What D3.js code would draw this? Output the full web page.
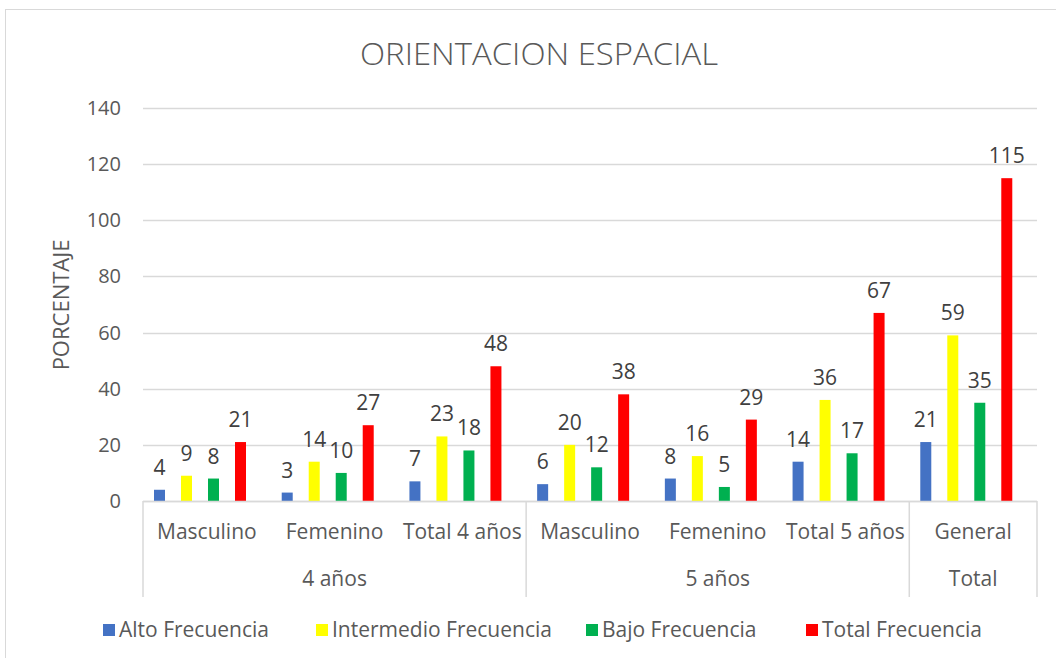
<!DOCTYPE html>
<html>
<head>
<meta charset="utf-8">
<script src="https://cdn.jsdelivr.net/npm/d3@7"></script>
<style>
  body { margin: 0; background: #fff; }
  svg text { font-family: "Open Sans", Lato, sans-serif; fill: #595959; }
</style>
</head>
<body>
<div id="chart"></div>
<script>
const categories = ["Masculino", "Femenino", "Total 4 años", "Masculino", "Femenino", "Total 5 años", "General"];
const groups = [
  { name: "4 años", from: 0, to: 2 },
  { name: "5 años", from: 3, to: 5 },
  { name: "Total", from: 6, to: 6 }
];
const seriesNames = ["Alto Frecuencia", "Intermedio Frecuencia", "Bajo Frecuencia", "Total Frecuencia"];
const seriesColors = ["#4472C4", "#FFFF00", "#00B050", "#FF0000"];
const alto = [4, 3, 7, 6, 8, 14, 21];
const intermedio = [9, 14, 23, 20, 16, 36, 59];
const bajo = [8, 10, 18, 12, 5, 17, 35];
const total = [21, 27, 48, 38, 29, 67, 115];
const yTicks = [0, 20, 40, 60, 80, 100, 120, 140];

const seriesValues = [alto, intermedio, bajo, total];

const W = 1056, H = 658;
const plotLeft = 143, plotRight = 1037, plotTop = 108, plotBottom = 501;
const fs = 21;

const svg = d3.select("#chart").append("svg")
  .attr("width", W).attr("height", H);

// chart border
svg.append("rect")
  .attr("x", 5.5).attr("y", 9.5)
  .attr("width", W + 10).attr("height", H + 10)
  .attr("fill", "none").attr("stroke", "#d9d9d9");

const x = d3.scaleBand().domain(d3.range(categories.length)).range([plotLeft, plotRight]);
const slot = d3.scaleBand().domain(d3.range(seriesNames.length)).range([11, 11 + 108]);
const y = d3.scaleLinear().domain([0, 140]).range([plotBottom, plotTop]);

// gridlines
svg.append("g")
  .selectAll("line")
  .data(yTicks)
  .join("line")
  .attr("x1", plotLeft).attr("x2", plotRight)
  .attr("y1", d => Math.round(y(d)) + 0.5).attr("y2", d => Math.round(y(d)) + 0.5)
  .attr("stroke", "#d9d9d9").attr("stroke-width", 1.5);

// y tick labels
svg.append("g")
  .selectAll("text")
  .data(yTicks)
  .join("text")
  .attr("x", 121).attr("y", d => y(d) + 7)
  .attr("text-anchor", "end")
  .attr("font-size", 20)
  .text(d => d);

// y axis title
svg.append("text")
  .attr("transform", "translate(69,305) rotate(-90)")
  .attr("text-anchor", "middle")
  .attr("font-size", 22)
  .text("PORCENTAJE");

// title
svg.append("text")
  .attr("x", 539).attr("y", 65)
  .attr("text-anchor", "middle")
  .attr("font-size", 31)
  .attr("font-weight", 300)
  .attr("textLength", 358)
  .attr("lengthAdjust", "spacingAndGlyphs")
  .text("ORIENTACION ESPACIAL");

// bars
const barW = 11;
seriesValues.forEach((vals, s) => {
  const g = svg.append("g");
  g.selectAll("rect")
    .data(vals)
    .join("rect")
    .attr("x", (d, i) => x(i) + slot(s))
    .attr("y", d => y(d))
    .attr("width", barW)
    .attr("height", d => plotBottom - y(d))
    .attr("fill", seriesColors[s]);
  g.selectAll("text")
    .data(vals)
    .join("text")
    .attr("x", (d, i) => x(i) + slot(s) + barW / 2)
    .attr("y", d => y(d) - 15)
    .attr("text-anchor", "middle")
    .attr("font-size", fs)
    .style("fill", "#404040")
    .text(d => d);
});

// category axis
const axisG = svg.append("g");
axisG.append("line")
  .attr("x1", plotLeft).attr("x2", plotRight)
  .attr("y1", plotBottom + 0.5).attr("y2", plotBottom + 0.5)
  .attr("stroke", "#d9d9d9").attr("stroke-width", 1.5);

const seps = [0].concat(groups.map(g => g.to + 1));
axisG.selectAll("line.sep")
  .data(seps)
  .join("line")
  .attr("class", "sep")
  .attr("x1", d => (d < categories.length ? x(d) : plotRight))
  .attr("x2", d => (d < categories.length ? x(d) : plotRight))
  .attr("y1", plotBottom).attr("y2", 597)
  .attr("stroke", "#d9d9d9").attr("stroke-width", 1.5);

axisG.selectAll("text.cat")
  .data(categories)
  .join("text")
  .attr("class", "cat")
  .attr("x", (d, i) => x(i) + x.bandwidth() / 2)
  .attr("y", 539)
  .attr("text-anchor", "middle")
  .attr("font-size", fs)
  .text(d => d);

axisG.selectAll("text.grp")
  .data(groups)
  .join("text")
  .attr("class", "grp")
  .attr("x", d => (x(d.from) + x(d.to) + x.bandwidth()) / 2)
  .attr("y", 586)
  .attr("text-anchor", "middle")
  .attr("font-size", fs)
  .text(d => d.name);

// legend
const legendX = [103, 316, 586, 806];
const legend = svg.append("g")
  .selectAll("g")
  .data(seriesNames)
  .join("g")
  .attr("transform", (d, i) => `translate(${legendX[i]},624)`);
legend.append("rect")
  .attr("width", 12).attr("height", 12)
  .attr("fill", (d, i) => seriesColors[i]);
legend.append("text")
  .attr("x", 16).attr("y", 13)
  .attr("font-size", fs)
  .text(d => d);
</script>
</body>
</html>
